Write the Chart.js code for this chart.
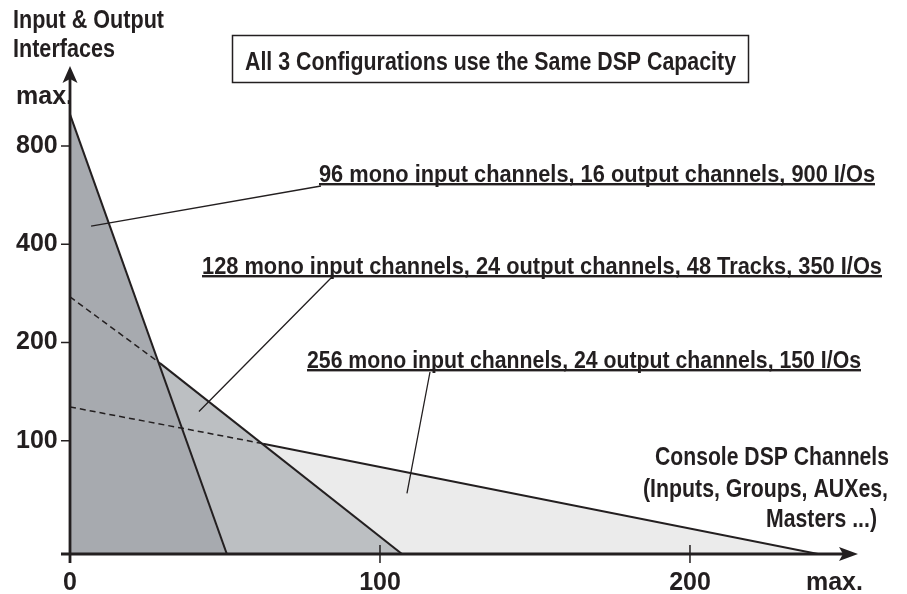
<!DOCTYPE html>
<html>
<head>
<meta charset="utf-8">
<script src="https://cdn.jsdelivr.net/npm/chart.js@4.4.1/dist/chart.umd.min.js"></script>
<style>
  html, body { margin: 0; padding: 0; background: #fff; }
</style>
</head>
<body>
<canvas id="dspChart" width="907" height="594"></canvas>
<script>
// x = console DSP channels, y = input & output interfaces (log, doubling per step)
var configLabels = [
    '96 mono input channels, 16 output channels, 900 I/Os',
    '128 mono input channels, 24 output channels, 48 Tracks, 350 I/Os',
    '256 mono input channels, 24 output channels, 150 I/Os'
];
var cfg1X = [0, 50.6];
var cfg1Y = [1000, 45];
var cfg2X = [0, 29, 107.1];
var cfg2Y = [276, 173, 45];
var cfg3X = [0, 62.3, 241.3];
var cfg3Y = [127, 98, 45];

var xTickValues = [0, 100, 200, 246.6];
var xTickLabels = ['0', '100', '200', 'max.'];
var yTickValues = [100, 200, 400, 800, 1131];
var yTickLabels = ['100', '200', '400', '800', 'max.'];

var xAxisTitle = ['Console DSP Channels', '(Inputs, Groups, AUXes,', 'Masters ...)'];
var yAxisTitle = ['Input & Output', 'Interfaces'];
var boxTitle = 'All 3 Configurations use the Same DSP Capacity';

// where each leader line points inside its area (data units)
var leaderX = [6.8, 41.6, 108.7];
var leaderY = [455, 123, 69];

var FONT = '"Liberation Sans Narrow", "Arial Narrow", "Liberation Sans", Arial, sans-serif';
var INK = '#231f20';

function pts(xs, ys) {
    return xs.map(function (x, i) { return { x: x, y: ys[i] }; });
}
function dashFirst(ctx) { return ctx.p0DataIndex === 0 ? [6, 4] : undefined; }
function widthFirst(ctx) { return ctx.p0DataIndex === 0 ? 1.5 : 2; }

// text drawn squeezed to a given width (condensed face)
function fitText(ctx, str, left, base, w) {
    var m = ctx.measureText(str).width;
    ctx.save();
    ctx.translate(left, base);
    ctx.scale(w / m, 1);
    ctx.textAlign = 'left';
    ctx.textBaseline = 'alphabetic';
    ctx.fillText(str, 0, 0);
    ctx.restore();
}

var notePos = [
    { left: 319, base: 182, width: 556, lead: [321, 186] },
    { left: 202, base: 274, width: 680, lead: [332, 277] },
    { left: 307, base: 368, width: 554, lead: [430, 372] }
];
var xTitlePos = [
    { left: 655, base: 465, width: 234 },
    { left: 643, base: 497, width: 245 },
    { left: 766, base: 527, width: 111 }
];
var yTitlePos = [
    { left: 13, base: 28, width: 151 },
    { left: 13, base: 57, width: 102 }
];

var decor = {
    id: 'decor',
    afterDraw: function (chart) {
        var ctx = chart.ctx, xs = chart.scales.x, ys = chart.scales.y;
        var x0 = xs.getPixelForValue(0), y0 = ys.bottom;
        ctx.save();
        ctx.strokeStyle = INK;
        ctx.fillStyle = INK;

        // axes
        ctx.lineWidth = 2.8;
        ctx.beginPath();
        ctx.moveTo(x0, y0 + 9); ctx.lineTo(x0, ys.top + 12);
        ctx.moveTo(x0 - 9, y0); ctx.lineTo(xs.right - 14, y0);
        ctx.stroke();
        ctx.beginPath();
        ctx.moveTo(x0, ys.top);
        ctx.lineTo(x0 - 7.5, ys.top + 17);
        ctx.lineTo(x0, ys.top + 13);
        ctx.lineTo(x0 + 7.5, ys.top + 17);
        ctx.closePath();
        ctx.moveTo(xs.right, y0);
        ctx.lineTo(xs.right - 19, y0 - 7);
        ctx.lineTo(xs.right - 15, y0);
        ctx.lineTo(xs.right - 19, y0 + 7);
        ctx.closePath();
        ctx.fill();

        // tick marks
        ctx.lineWidth = 1.5;
        ctx.beginPath();
        yTickValues.forEach(function (v, i) {
            if (yTickLabels[i] === 'max.') return;
            var p = ys.getPixelForValue(v);
            ctx.moveTo(x0 - 9, p); ctx.lineTo(x0, p);
        });
        xTickValues.forEach(function (v, i) {
            if (v === 0 || xTickLabels[i] === 'max.') return;
            var p = xs.getPixelForValue(v);
            ctx.moveTo(p, y0 - 9); ctx.lineTo(p, y0 + 9);
        });
        ctx.stroke();

        // leader lines
        ctx.lineWidth = 1.3;
        ctx.beginPath();
        notePos.forEach(function (n, i) {
            ctx.moveTo(xs.getPixelForValue(leaderX[i]), ys.getPixelForValue(leaderY[i]));
            ctx.lineTo(n.lead[0], n.lead[1]);
        });
        ctx.stroke();

        // notes, underlined
        ctx.font = 'bold 24px ' + FONT;
        notePos.forEach(function (n, i) {
            fitText(ctx, configLabels[i], n.left, n.base, n.width);
            ctx.fillRect(n.left, n.base + 1, n.width, 2.4);
        });

        // axis titles
        ctx.font = 'bold 25px ' + FONT;
        xTitlePos.forEach(function (p, i) { fitText(ctx, xAxisTitle[i], p.left, p.base, p.width); });
        yTitlePos.forEach(function (p, i) { fitText(ctx, yAxisTitle[i], p.left, p.base, p.width); });

        // boxed headline
        ctx.lineWidth = 1.5;
        ctx.strokeRect(232.5, 35.5, 516, 47);
        ctx.font = 'bold 26px ' + FONT;
        fitText(ctx, boxTitle, 245, 70, 491);
        ctx.restore();
    }
};

var tickFont = { family: FONT, size: 25, weight: 'bold' };

var myChart = new Chart(document.getElementById('dspChart'), {
    type: 'line',
    data: {
        datasets: [{
                label: configLabels[0],
                data: pts(cfg1X, cfg1Y),
                backgroundColor: '#a7aaaf',
                borderColor: INK,
                borderWidth: 2,
                fill: 'start',
                pointRadius: 0,
                tension: 0
            },
            {
                label: configLabels[1],
                data: pts(cfg2X, cfg2Y),
                backgroundColor: '#bcbfc2',
                borderColor: INK,
                borderWidth: 2,
                fill: 'start',
                pointRadius: 0,
                tension: 0,
                segment: { borderDash: dashFirst, borderWidth: widthFirst }
            },
            {
                label: configLabels[2],
                data: pts(cfg3X, cfg3Y),
                backgroundColor: '#ebebeb',
                borderColor: INK,
                borderWidth: 2,
                fill: 'start',
                pointRadius: 0,
                tension: 0,
                segment: { borderDash: dashFirst, borderWidth: widthFirst }
            }
        ]
    },
    options: {
        responsive: false,
        animation: false,
        devicePixelRatio: 1,
        layout: { padding: { left: 16, right: 49, top: 66, bottom: 0 } },
        plugins: {
            legend: { display: false },
            tooltip: { enabled: false },
            filler: { drawTime: 'beforeDatasetsDraw' }
        },
        scales: {
            x: {
                type: 'linear',
                min: 0,
                max: 254.2,
                bounds: 'data',
                afterFit: function (s) { s.height = 40; },
                afterBuildTicks: function (s) { s.ticks = xTickValues.map(function (v) { return { value: v }; }); },
                grid: { display: false, drawTicks: false },
                border: { display: false },
                ticks: {
                    autoSkip: false,
                    maxRotation: 0,
                    padding: 14,
                    color: INK,
                    font: tickFont,
                    callback: function (v, i) { return xTickLabels[i]; }
                }
            },
            y: {
                type: 'logarithmic',
                min: 45,
                max: 1407,
                bounds: 'data',
                afterFit: function (s) { s.width = 54; },
                afterBuildTicks: function (s) { s.ticks = yTickValues.map(function (v) { return { value: v }; }); },
                grid: { display: false, drawTicks: false },
                border: { display: false },
                ticks: {
                    autoSkip: false,
                    crossAlign: 'far',
                    padding: 0,
                    color: INK,
                    font: tickFont,
                    callback: function (v, i) { return yTickLabels[i]; }
                }
            }
        }
    },
    plugins: [decor]
});
</script>
</body>
</html>
